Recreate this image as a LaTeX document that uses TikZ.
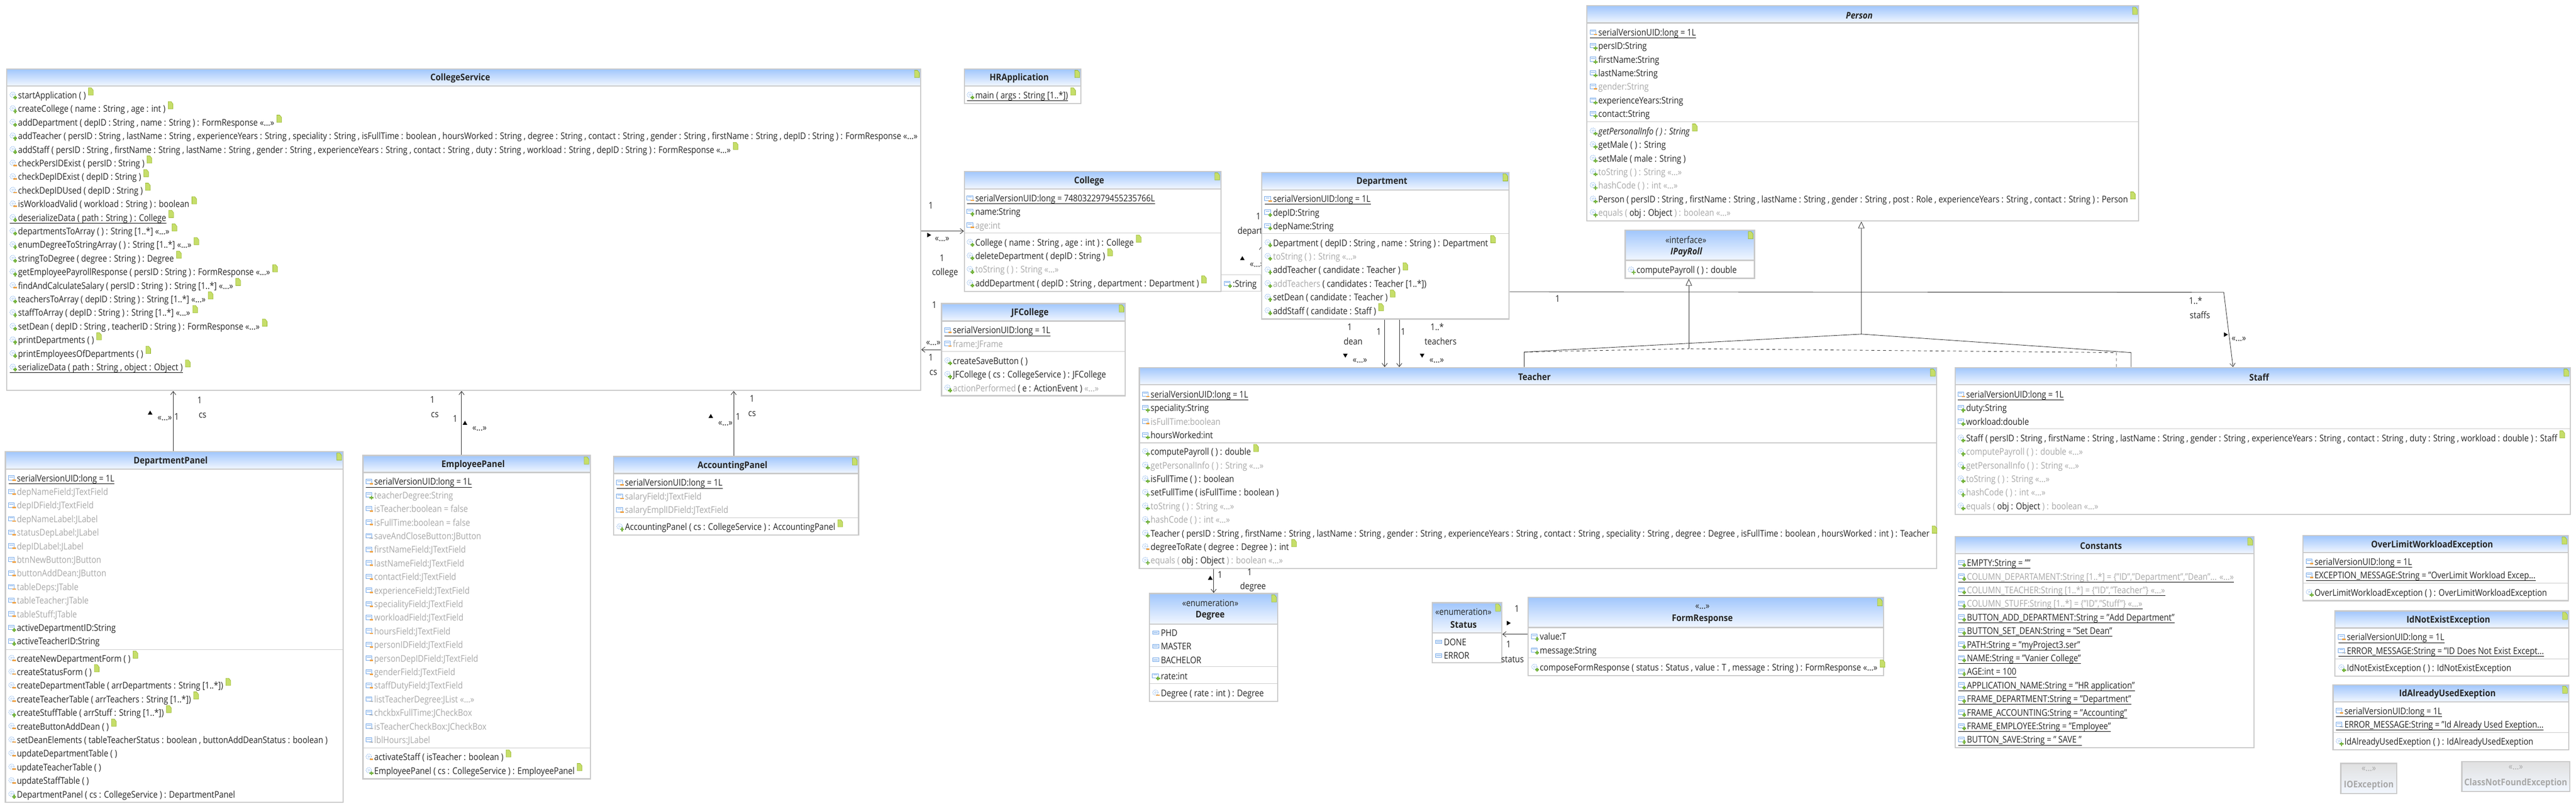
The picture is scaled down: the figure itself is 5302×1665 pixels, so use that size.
\documentclass[tikz,border=0pt]{standalone}
\usepackage{fontspec}
\setmainfont{Open Sans}
\usetikzlibrary{arrows.meta}
\usetikzlibrary{fit}
\usetikzlibrary{shapes.geometric}

\definecolor{headtop}{HTML}{A0C6FC}
\definecolor{headbot}{HTML}{F2F7FF}
\definecolor{frame}{HTML}{C9C9C9}
\definecolor{graytext}{HTML}{A8A8A8}
\definecolor{inktext}{HTML}{262626}
\definecolor{iconblue}{HTML}{6FA5E8}
\definecolor{notefill}{HTML}{C6DE6A}
\definecolor{noteedge}{HTML}{8FB020}
\definecolor{plusgreen}{HTML}{74B33C}
\definecolor{minusorange}{HTML}{F0A040}

\newcommand{\rowfont}{\fontsize{9.5}{11}\selectfont}
\newcommand{\more}{«...»}
\newcommand{\serial}{serialVersionUID:long = 1L}
\newcommand{\kk}[1]{\textcolor{inktext}{#1}}
\newcommand{\fieldshape}{\draw[iconblue,fill=white,line width=.5pt] (-7,-5) rectangle (5,4);
  \draw[iconblue,line width=.5pt] (-5,-2) -- (3,-2);}
\newcommand{\methodshape}{\draw[iconblue,densely dotted,line width=.6pt] (-1,-1) circle (5.5);
  \draw[iconblue,densely dotted,line width=.5pt] (-1,-1) circle (2);}
\newcommand{\plusmark}{\fill[plusgreen] (3,1) rectangle (6,9); \fill[plusgreen] (0.5,3.5) rectangle (8.5,6.5);}
\newcommand{\minusmark}{\fill[minusorange] (1,3) rectangle (8,6);}

\tikzset{
  fp/.pic={\fieldshape\plusmark},
  fm/.pic={\fieldshape\minusmark},
  fk/.pic={\fieldshape\draw[gray,line width=.4pt] (1,5) .. controls (3,2) and (5,7) .. (8,4);},
  fe/.pic={\draw[iconblue,fill=iconblue!15,line width=.4pt] (-7,-4) rectangle (6,3);
    \draw[iconblue,line width=.5pt] (-5,-.5) -- (4,-.5);},
  mp/.pic={\methodshape\plusmark},
  mm/.pic={\methodshape\minusmark},
  notemark/.pic={\fill[notefill,draw=noteedge,line width=.3pt] (0,0) -- (0,-15) -- (6,-15) -- (10,-10) -- (10,0) -- cycle;},
  rowtext/.style={anchor=west,inner sep=0pt,font=\rowfont,xscale=.865,text height=9pt,text depth=2pt,text=inktext},
  bk/.style={},
  gy/.style={text=graytext},
  nt/.code={\gdef\rownote{1}},
  un/.code={\gdef\rowline{1}},
  nu/.style={nt,un},
  gu/.style={gy,un},
  classbody/.style={rectangle,inner sep=0pt,fill=white,draw=frame,line width=1.25pt},
  classhead/.style={rectangle,inner sep=0pt,top color=headtop,bottom color=headbot,draw=frame,line width=1.25pt},
  grayhead/.style={rectangle,inner sep=0pt,top color=black!12,bottom color=headbot,draw=frame,line width=1.25pt},
  classtitle/.style={font=\rowfont\bfseries,xscale=.9,inner sep=0pt,xshift=-4pt,yshift=-1pt,text=inktext},
  stereo/.style={font=\rowfont,xscale=.865,inner sep=0pt,text=inktext},
  sepline/.style={draw=frame,line width=.6pt},
  linklabel/.style={font=\rowfont,xscale=.865,inner sep=0pt,text=inktext},
  link/.style={draw=black!85,line width=.45pt},
  assoc/.style={link,-{Straight Barb[length=3.5pt,width=5.5pt]}},
  general/.style={link,-{Triangle[open,length=7pt,width=6.5pt,fill=white]}},
  dirmark/.style={regular polygon,regular polygon sides=3,fill=black,inner sep=0pt,minimum size=5.5pt},
  dirup/.style={dirmark},
  dirdown/.style={dirmark,shape border rotate=180},
  dirright/.style={dirmark,shape border rotate=-90},
}

% name, left, top, right, bottom, bottom of the header
\newcommand{\umlclass}[7][]{
  \coordinate (#2-a) at (#3,#4);
  \coordinate (#2-b) at (#5,#6);
  \coordinate (#2-c) at (#5,#7);
  \node[classbody,fit=(#2-a)(#2-b)] (#2) {};
  \node[classhead,fit=(#2-a)(#2-c)] (#2-head) {};
  \node[classtitle,#1] (#2-title) at (#2-head.center) {#2};
  \path (#2-head.north east) ++(-14,19) pic {notemark};
}
% prefix, x of the text, y of the first row, rows
\newcommand{\classrows}[4]{
  \foreach[count=\i] \ico/\fl/\txt in {#4}{
    \pgfmathsetmacro\ypos{#3+28*(\i-1)}
    \gdef\rownote{0}\gdef\rowline{0}
    \node[rowtext,\fl] (#1\i) at (#2,\ypos) {\txt};
    \path (#2-10,\ypos) pic {\ico};
    \ifnum\rownote=1 \path (#1\i.east) ++(5,0) pic {notemark};\fi
    \ifnum\rowline=1 \draw[line width=.5pt] (#1\i.south west) ++(-17,0) -- (#1\i.south east);\fi
  }
}

\begin{document}
\begin{tikzpicture}[x=.5pt,y=-.5pt]
  \useasboundingbox (0,0) rectangle (5302,1665);

  % what the College and Department boxes cover
  \coordinate (hidden-a) at (2512,566);
  \coordinate (hidden-b) at (2595,600);
  \node[classbody,fit=(hidden-a)(hidden-b),line width=.6pt] (hidden) {};
  \classrows{hidden-f}{2537}{584}{fp/bk/{:String}}
  \node[linklabel,anchor=west] (departlabel) at (2547,477) {depart};
  \node[linklabel,anchor=west] (morelabel) at (2572,546) {\more};
  \coordinate (barb-a) at (2599,505);
  \coordinate (barb-b) at (2592,514);
  \draw[link] (barb-a) -- (barb-b);

  \umlclass{CollegeService}{14}{142}{1895}{804}{177}
  \classrows{cs-m}{37}{196}{
    mp/nt/{startApplication ( )},
    mp/nt/{createCollege ( name : String , age : int )},
    mp/nt/{addDepartment ( depID : String , name : String ) : FormResponse \more},
    mp/bk/{addTeacher ( persID : String , lastName : String , experienceYears : String , speciality : String , isFullTime : boolean , hoursWorked : String , degree : String , contact : String , gender : String , firstName : String , depID : String ) : FormResponse \more},
    mp/nt/{addStaff ( persID : String , firstName : String , lastName : String , gender : String , experienceYears : String , contact : String , duty : String , workload : String , depID : String ) : FormResponse \more},
    mm/nt/{checkPersIDExist ( persID : String )},
    mm/nt/{checkDepIDExist ( depID : String )},
    mm/nt/{checkDepIDUsed ( depID : String )},
    mm/nt/{isWorkloadValid ( workload : String ) : boolean},
    mp/nu/{deserializeData ( path : String ) : College},
    mp/nt/{departmentsToArray ( ) : String [1..*] \more},
    mp/nt/{enumDegreeToStringArray ( ) : String [1..*] \more},
    mp/nt/{stringToDegree ( degree : String ) : Degree},
    mp/nt/{getEmployeePayrollResponse ( persID : String ) : FormResponse \more},
    mm/nt/{findAndCalculateSalary ( persID : String ) : String [1..*] \more},
    mp/nt/{teachersToArray ( depID : String ) : String [1..*] \more},
    mp/nt/{staffToArray ( depID : String ) : String [1..*] \more},
    mp/nt/{setDean ( depID : String , teacherID : String ) : FormResponse \more},
    mp/nt/{printDepartments ( )},
    mp/nt/{printEmployeesOfDepartments ( )},
    mp/nu/{serializeData ( path : String , object : Object )}}

  \umlclass{DepartmentPanel}{11}{930}{706}{1652}{966}
  \classrows{dp-f}{34.5}{984.6}{
    fm/un/{\serial},
    fm/gy/{depNameField:JTextField},
    fm/gy/{depIDField:JTextField},
    fm/gy/{depNameLabel:JLabel},
    fm/gy/{statusDepLabel:JLabel},
    fm/gy/{depIDLabel:JLabel},
    fm/gy/{btnNewButton:JButton},
    fm/gy/{buttonAddDean:JButton},
    fm/gy/{tableDeps:JTable},
    fm/gy/{tableTeacher:JTable},
    fm/gy/{tableStuff:JTable},
    fp/bk/{activeDepartmentID:String},
    fp/bk/{activeTeacherID:String}}
  \classrows{dp-m}{34.5}{1355.6}{
    mm/nt/{createNewDepartmentForm ( )},
    mm/nt/{createStatusForm ( )},
    mm/nt/{createDepartmentTable ( arrDepartments : String [1..*])},
    mm/nt/{createTeacherTable ( arrTeachers : String [1..*])},
    mp/nt/{createStuffTable ( arrStuff : String [1..*])},
    mm/nt/{createButtonAddDean ( )},
    mm/bk/{setDeanElements ( tableTeacherStatus : boolean , buttonAddDeanStatus : boolean )},
    mm/bk/{updateDepartmentTable ( )},
    mm/bk/{updateTeacherTable ( )},
    mm/bk/{updateStaffTable ( )},
    mp/bk/{DepartmentPanel ( cs : CollegeService ) : DepartmentPanel}}

  \umlclass{EmployeePanel}{747}{938}{1215}{1604}{973}
  \classrows{ep-f}{770}{991.7}{
    fm/un/{\serial},
    fp/gy/{teacherDegree:String},
    fm/gy/{isTeacher:boolean = false},
    fm/gy/{isFullTime:boolean = false},
    fk/gy/{saveAndCloseButton:JButton},
    fm/gy/{firstNameField:JTextField},
    fm/gy/{lastNameField:JTextField},
    fm/gy/{contactField:JTextField},
    fm/gy/{experienceField:JTextField},
    fm/gy/{specialityField:JTextField},
    fm/gy/{workloadField:JTextField},
    fm/gy/{hoursField:JTextField},
    fm/gy/{personIDField:JTextField},
    fm/gy/{personDepIDField:JTextField},
    fm/gy/{genderField:JTextField},
    fm/gy/{staffDutyField:JTextField},
    fk/gy/{listTeacherDegree:JList \more},
    fk/gy/{chckbxFullTime:JCheckBox},
    fk/gy/{isTeacherCheckBox:JCheckBox},
    fk/gy/{lblHours:JLabel}}
  \classrows{ep-m}{770}{1559}{
    mm/nt/{activateStaff ( isTeacher : boolean )},
    mp/nt/{EmployeePanel ( cs : CollegeService ) : EmployeePanel}}

  \umlclass{AccountingPanel}{1263}{940}{1767}{1102}{975}
  \classrows{ap-f}{1286}{994}{
    fm/un/{\serial},
    fm/gy/{salaryField:JTextField},
    fm/gy/{salaryEmplIDField:JTextField}}
  \classrows{ap-m}{1286}{1085}{
    mp/nt/{AccountingPanel ( cs : CollegeService ) : AccountingPanel}}

  \umlclass{HRApplication}{1985}{142}{2225}{213}{177}
  \classrows{hr-m}{2007}{196}{mp/nu/{main ( args : String [1..*])}}

  \umlclass{College}{1985}{353}{2513}{600}{389}
  \classrows{co-f}{2007}{408}{
    fm/un/{serialVersionUID:long = 7480322979455235766L},
    fp/bk/{name:String},
    fm/gy/{age:int}}
  \classrows{co-m}{2007}{499}{
    mp/nt/{College ( name : String , age : int ) : College},
    mp/nt/{deleteDepartment ( depID : String )},
    mp/gy/{toString ( ) : String \more},
    mp/nt/{addDepartment ( depID : String , department : Department )}}

  \umlclass{Department}{2597}{355}{3106}{657}{391}
  \classrows{de-f}{2620}{409.5}{
    fm/un/{\serial},
    fp/bk/{depID:String},
    fp/bk/{depName:String}}
  \classrows{de-m}{2620}{500}{
    mp/nt/{Department ( depID : String , name : String ) : Department},
    mp/gy/{toString ( ) : String \more},
    mp/nt/{addTeacher ( candidate : Teacher )},
    mp/gy/{addTeachers \kk{( candidates : Teacher [1..*])}},
    mp/nt/{setDean ( candidate : Teacher )},
    mp/nt/{addStaff ( candidate : Staff )}}

  \umlclass{JFCollege}{1938}{625}{2316}{815}{661}
  \classrows{jf-f}{1961}{680}{
    fm/un/{\serial},
    fm/gy/{frame:JFrame}}
  \classrows{jf-m}{1961}{743}{
    mp/bk/{createSaveButton ( )},
    mp/bk/{JFCollege ( cs : CollegeService ) : JFCollege},
    mp/gy/{actionPerformed \kk{( e : ActionEvent )} \more}}

  \umlclass{Teacher}{2345}{757}{3986}{1171}{792}
  \classrows{te-f}{2368}{812}{
    fm/un/{\serial},
    fp/bk/{speciality:String},
    fm/gy/{isFullTime:boolean},
    fp/bk/{hoursWorked:int}}
  \classrows{te-m}{2368}{930}{
    mp/nt/{computePayroll ( ) : double},
    mp/gy/{getPersonalInfo ( ) : String \more},
    mp/bk/{isFullTime ( ) : boolean},
    mp/bk/{setFullTime ( isFullTime : boolean )},
    mp/gy/{toString ( ) : String \more},
    mp/gy/{hashCode ( ) : int \more},
    mp/nt/{Teacher ( persID : String , firstName : String , lastName : String , gender : String , experienceYears : String , contact : String , speciality : String , degree : Degree , isFullTime : boolean , hoursWorked : int ) : Teacher},
    mm/nt/{degreeToRate ( degree : Degree ) : int},
    mp/gy/{equals ( \kk{obj : Object} ) : boolean \more}}

  \umlclass{Staff}{4024}{757}{5290}{1059}{792}
  \classrows{st-f}{4046.5}{812}{
    fm/un/{\serial},
    fp/bk/{duty:String},
    fp/bk/{workload:double}}
  \classrows{st-m}{4046.5}{902}{
    mp/nt/{Staff ( persID : String , firstName : String , lastName : String , gender : String , experienceYears : String , contact : String , duty : String , workload : double ) : Staff},
    mp/gy/{computePayroll ( ) : double \more},
    mp/gy/{getPersonalInfo ( ) : String \more},
    mp/gy/{toString ( ) : String \more},
    mp/gy/{hashCode ( ) : int \more},
    mp/gy/{equals ( \kk{obj : Object} ) : boolean \more}}

  \umlclass[font=\rowfont\bfseries\itshape]{Person}{3266}{12}{4402}{455}{47}
  \classrows{pe-f}{3289.5}{66.5}{
    fm/un/{\serial},
    fp/bk/{persID:String},
    fp/bk/{firstName:String},
    fp/bk/{lastName:String},
    fm/gy/{gender:String},
    fp/bk/{experienceYears:String},
    fp/bk/{contact:String}}
  \classrows{pe-m}{3289.5}{270}{
    mp/nt/{\itshape getPersonalInfo ( ) : String},
    mp/bk/{getMale ( ) : String},
    mp/bk/{setMale ( male : String )},
    mp/gy/{toString ( ) : String \more},
    mp/gy/{hashCode ( ) : int \more},
    mp/nt/{Person ( persID : String , firstName : String , lastName : String , gender : String , post : Role , experienceYears : String , contact : String ) : Person},
    mp/gy/{equals ( \kk{obj : Object} ) : boolean \more}}

  \umlclass[font=\rowfont\bfseries\itshape,yshift=-6pt]{IPayRoll}{3345}{474}{3611}{573}{536}
  \node[stereo] (ipay-st) at (3470,494) {«interface»};
  \classrows{ip-m}{3368}{556}{mp/bk/{computePayroll ( ) : double}}

  \umlclass[yshift=-6pt]{Degree}{2366}{1222}{2630}{1444}{1285}
  \node[stereo] (deg-st) at (2491,1242) {«enumeration»};
  \classrows{dg-l}{2389}{1303}{fe/bk/{PHD},fe/bk/{MASTER},fe/bk/{BACHELOR}}
  \classrows{dg-f}{2389}{1392}{fp/bk/{rate:int}}
  \classrows{dg-m}{2389}{1427}{mm/bk/{Degree ( rate : int ) : Degree}}

  \umlclass[yshift=-6pt]{Status}{2948}{1241}{3091}{1365}{1303}
  \node[stereo] (sta-st) at (3012,1260) {«enumeration»};
  \classrows{sa-l}{2971.5}{1322}{fe/bk/{DONE},fe/bk/{ERROR}}

  \umlclass[yshift=-6pt]{FormResponse}{3145}{1230}{3877}{1391}{1292}
  \node[stereo] (for-st) at (3504,1250) {\more};
  \classrows{fr-f}{3169}{1311}{
    fp/bk/{value:T},
    fp/bk/{message:String}}
  \classrows{fr-m}{3169}{1374}{
    mp/nt/{composeFormResponse ( status : Status , value : T , message : String ) : FormResponse \more}}

  \umlclass{Constants}{4024}{1105}{4639}{1540}{1140}
  \classrows{cn-f}{4048}{1159}{
    fp/un/{EMPTY:String = ""},
    fp/gu/{COLUMN\_DEPARTAMENT:String [1..*] = \{"ID","Department","Dean"... \more},
    fp/gu/{COLUMN\_TEACHER:String [1..*] = \{"ID","Teacher"\} \more},
    fp/gu/{COLUMN\_STUFF:String [1..*] = \{"ID","Stuff"\} \more},
    fp/un/{BUTTON\_ADD\_DEPARTMENT:String = "Add Department"},
    fp/un/{BUTTON\_SET\_DEAN:String = "Set Dean"},
    fp/un/{PATH:String = "myProject3.ser"},
    fp/un/{NAME:String = "Vanier College"},
    fp/un/{AGE:int = 100},
    fp/un/{APPLICATION\_NAME:String = "HR application"},
    fp/un/{FRAME\_DEPARTMENT:String = "Department"},
    fp/un/{FRAME\_ACCOUNTING:String = "Accounting"},
    fp/un/{FRAME\_EMPLOYEE:String = "Employee"},
    fp/un/{BUTTON\_SAVE:String = " SAVE "}}

  \umlclass{OverLimitWorkloadException}{4740}{1103}{5286}{1237}{1138}
  \classrows{ol-f}{4763.5}{1156.5}{
    fm/un/{\serial},
    fm/un/{EXCEPTION\_MESSAGE:String = "OverLimit Workload Excep...}}
  \classrows{ol-m}{4763.5}{1220}{mp/bk/{OverLimitWorkloadException ( ) : OverLimitWorkloadException}}

  \umlclass{IdNotExistException}{4806}{1258}{5287}{1392}{1293}
  \classrows{ne-f}{4830}{1312}{
    fm/un/{\serial},
    fk/un/{ERROR\_MESSAGE:String = "ID Does Not Exist Except...}}
  \classrows{ne-m}{4830}{1375}{mp/bk/{IdNotExistException ( ) : IdNotExistException}}

  \umlclass{IdAlreadyUsedExeption}{4802}{1410}{5287}{1544}{1445}
  \classrows{au-f}{4825}{1464}{
    fm/un/{\serial},
    fk/un/{ERROR\_MESSAGE:String = "Id Already Used Exeption...}}
  \classrows{au-m}{4825}{1527}{mp/bk/{IdAlreadyUsedExeption ( ) : IdAlreadyUsedExeption}}

  % classes from outside the model
  \foreach \gname/\ga/\gb/\gc/\gd in {IOException/4818/1572/4933/1634,ClassNotFoundException/5067/1568/5289/1630}{
    \coordinate (\gname-a) at (\ga,\gb);
    \coordinate (\gname-b) at (\gc,\gd);
    \node[grayhead,fit=(\gname-a)(\gname-b)] (\gname) {};
    \node[stereo,text=graytext,yshift=9.5pt] (\gname-st) at (\gname.center) {\more};
    \node[classtitle,xshift=4pt,yshift=-6pt,text=graytext] (\gname-title) at (\gname.center) {\gname};
  }

  % compartments
  \foreach \cname/\cy in {DepartmentPanel/1338,EmployeePanel/1540,AccountingPanel/1066,College/480,Department/481,
    JFCollege/724,Teacher/912,Staff/883,Person/251,Degree/1373,Degree/1408,FormResponse/1355,
    OverLimitWorkloadException/1201,IdNotExistException/1356.5,IdAlreadyUsedExeption/1508}
    \draw[sepline] (\cname.west |- 0,\cy) -- (\cname.east |- 0,\cy);

  % associations
  \draw[assoc] (DepartmentPanel.north -| 356.5,0) -- (CollegeService.south -| 356.5,0);
  \draw[assoc] (EmployeePanel.north -| 950,0) -- (CollegeService.south -| 950,0);
  \draw[assoc] (AccountingPanel.north -| 1510,0) -- (CollegeService.south -| 1510,0);
  \draw[assoc] (CollegeService.east |- 0,476) -- (College.west |- 0,476);
  \draw[assoc] (JFCollege.west |- 0,720) -- (CollegeService.east |- 0,720);
  \draw[assoc] (Department.south -| 2850,0) -- (Teacher.north -| 2850,0);
  \draw[assoc] (Department.south -| 2880,0) -- (Teacher.north -| 2880,0);
  \draw[assoc] (Teacher.south -| 2498,0) -- (Degree.north -| 2498,0);
  \draw[assoc] (FormResponse.west |- 0,1306) -- (Status.east |- 0,1306);
  \coordinate (staffbend) at (4577,602);
  \draw[assoc] (Department.east |- 0,601) -- (staffbend) -- (Staff.north -| 4596,0);

  % inheritance
  \coordinate (teacherbend) at (3137,725);
  \coordinate (staffup) at (4386,726);
  \coordinate (personjoin) at (3831,688);
  \coordinate (staffdash) at (4356,726);
  \coordinate (payjoin) at (3476,718);
  \draw[general] (Teacher.north -| 3137,0) -- (teacherbend) -- (personjoin) -- (Person.south -| 3831,0);
  \draw[link] (Staff.north -| 4386,0) -- (staffup) -- (personjoin);
  \draw[general] (payjoin) -- (IPayRoll.south -| 3476,0);
  \draw[link,dashed] (teacherbend) -- (payjoin);
  \draw[link,dashed] (Staff.north -| 4356,0) -- (staffdash) -- (payjoin);

  % link texts
  \foreach \lx/\ly/\ltxt in {
    411/824/1,417/855/cs,339/862/{\more},363.5/858/1,
    890/823/1,895/854/cs,937/862/1,987/883/{\more},
    1548/821/1,1548/852/cs,1493/872/{\more},1519/858/1,
    1916/423/1,1939/493/{\more},1939/531/1,1945/562/college,
    1921/707/{\more},1923/628/1,1916/736/1,1921/767/cs,
    2590/446/1,
    2778/673/1,2785/703/dean,2799/743/{\more},2838/683/1,2888/683/1,
    2958/673/{1..*},2965/703/teachers,2957/743/{\more},
    3206/615/1,4519/619/{1..*},4528/649/staffs,4608/698/{\more},
    2511/1183/1,2572/1178/1,2579/1209/degree,
    3122/1253/1,3105/1327/1,3113/1358/status}
    \node[linklabel] (lab\lx-\ly) at (\lx,\ly) {\ltxt};

  \foreach[count=\i] \mx/\my/\mstyle in {
    309/851/dirup,957/872/dirup,1463/858/dirup,1911/484/dirright,2557/533/dirup,
    2769/731/dirdown,2927/731/dirdown,4580/689/dirright,2491/1191/dirup,3104/1283/dirright}
    \node[\mstyle] (dir\i) at (\mx,\my) {};
\end{tikzpicture}
\end{document}
